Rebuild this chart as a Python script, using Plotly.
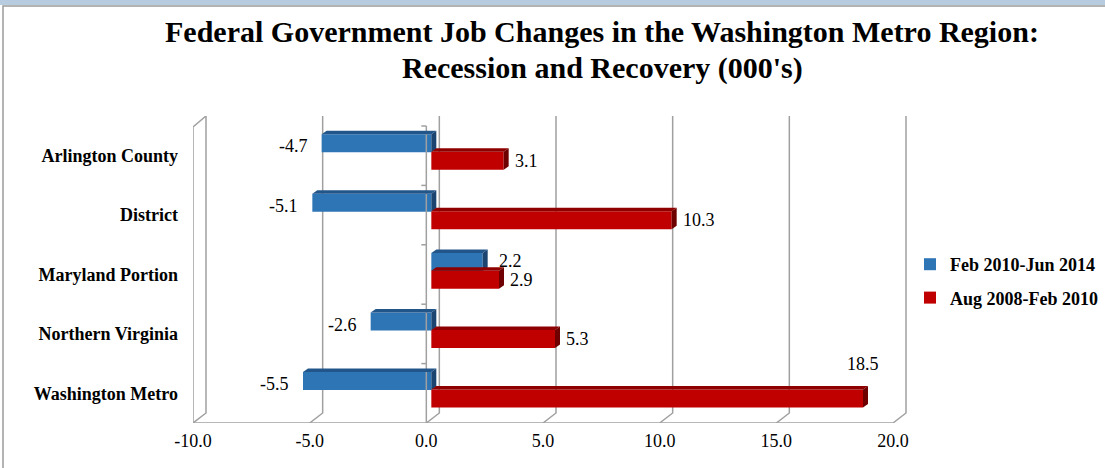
import plotly.graph_objects as go

# ---- data ----
categories = ["Arlington County", "District", "Maryland Portion", "Northern Virginia", "Washington Metro"]
recovery_name = "Feb 2010-Jun 2014"
recession_name = "Aug 2008-Feb 2010"
recovery = [-4.7, -5.1, 2.2, -2.6, -5.5]
recession = [3.1, 10.3, 2.9, 5.3, 18.5]
x_ticks = [-10, -5, 0, 5, 10, 15, 20]
title_lines = ["Federal Government Job Changes in the Washington Metro Region:",
               "Recession and Recovery (000's)"]

# ---- layout geometry (pixels) ----
W, H = 1105, 468
L, R, T, B = 193, 908, 116, 423
front_top = 126
X0, XF = -10.0, 20.0
ppu = (893 - 193) / (XF - X0)           # px per x unit
FRONT_SHIFT = 5                          # front plane is 5 px left of bar plane
BACK_SHIFT = 8                           # back wall is 8 px right of bar plane
x_lo = X0 - FRONT_SHIFT / ppu
x_hi = x_lo + (R - L) / ppu
n = len(categories)
ppy = (B - front_top) / n                # px per category
y_top = -0.5 - (front_top - T) / ppy
y_bot = n - 0.5

def dxu(px):
    return px / ppu

def dyu(px):
    return px / ppy

def px_x(px):   # paper x from pixel
    return (px - L) / (R - L)

def px_y(py):   # paper y from pixel (top-down)
    return (B - py) / (B - T)

BLUE, BLUE_TOP, BLUE_SIDE = "#2E75B6", "#22558A", "#1B4470"
RED, RED_TOP, RED_SIDE = "#C00000", "#8E0000", "#6E0000"
GRID = "#A0A0A0"
FONT = "Liberation Serif"

bw = 0.303
off_blue = -0.36
off_red = -0.065
ypos = list(range(n))

fig = go.Figure()
fig.add_trace(go.Bar(y=ypos, x=recovery, orientation="h", name=recovery_name,
                     marker=dict(color=BLUE, line=dict(width=0)), width=bw, offset=off_blue,
                     legendgroup="a", hoverinfo="skip"))
fig.add_trace(go.Bar(y=ypos, x=recession, orientation="h", name=recession_name,
                     marker=dict(color=RED, line=dict(width=0)), width=bw, offset=off_red,
                     legendgroup="b", hoverinfo="skip"))

shapes = []
fs, bs = dxu(FRONT_SHIFT), dxu(BACK_SHIFT)
floor_back = y_bot - dyu(10)
# back wall gridlines + floor diagonals + tick marks on the front edge
for v in x_ticks:
    shapes.append(dict(type="path", xref="x", yref="y", layer="below",
                       path=f"M{v+bs},{y_top} L{v+bs},{floor_back} L{v-fs},{y_bot}",
                       line=dict(color=GRID, width=1.5)))
    shapes.append(dict(type="line", xref="x", yref="y", layer="below",
                       x0=v - fs, x1=v - fs, y0=y_bot, y1=y_bot + dyu(5),
                       line=dict(color=GRID, width=1.5)))
# floor front line
shapes.append(dict(type="line", xref="x", yref="y", layer="below", x0=X0 - fs, x1=XF - fs,
                   y0=y_bot, y1=y_bot, line=dict(color=GRID, width=1.5)))
# left wall front edge + top diagonal
lw_top = -0.5 + dyu(1)
shapes.append(dict(type="path", xref="x", yref="y", layer="below",
                   path=f"M{X0-fs},{y_bot} L{X0-fs},{lw_top} L{X0+bs},{y_top}",
                   line=dict(color=GRID, width=1.5)))
# category axis at zero (front plane)
shapes.append(dict(type="line", xref="x", yref="y", layer="above", x0=-fs, x1=-fs, y0=-0.5, y1=y_bot,
                   line=dict(color=GRID, width=1.5)))
for i in range(n):
    shapes.append(dict(type="line", xref="x", yref="y", layer="above", x0=-fs - dxu(5), x1=-fs,
                       y0=i - 0.5, y1=i - 0.5, line=dict(color=GRID, width=1.5)))

# 3D faces of bars
ddx, ddy = dxu(5), dyu(3.5)
def faces(vals, off, top_c, side_c):
    out = []
    for i, v in enumerate(vals):
        a, b = min(0, v), max(0, v)
        yt = i + off
        yb = i + off + bw
        out.append(dict(type="path", xref="x", yref="y", layer="above", line=dict(width=0),
                        fillcolor=top_c,
                        path=f"M{a},{yt} L{b},{yt} L{b+ddx},{yt-ddy} L{a+ddx},{yt-ddy} Z"))
        out.append(dict(type="path", xref="x", yref="y", layer="above", line=dict(width=0),
                        fillcolor=side_c,
                        path=f"M{b},{yt} L{b+ddx},{yt-ddy} L{b+ddx},{yb-ddy} L{b},{yb} Z"))
    return out
shapes += faces(recovery, off_blue, BLUE_TOP, BLUE_SIDE)
shapes += faces(recession, off_red, RED_TOP, RED_SIDE)

# data labels
annotations = []
lab_font = dict(family=FONT, size=18, color="black")
for i, v in enumerate(recovery):
    yc = i + off_blue + bw / 2
    if v < 0:
        annotations.append(dict(x=v, y=yc, text=f"{v:.1f}", showarrow=False, xanchor="right",
                                xshift=-12, yshift=-3, font=lab_font))
    else:
        annotations.append(dict(x=v, y=yc, text=f"{v:.1f}", showarrow=False, xanchor="left",
                                xshift=14, yshift=1, font=lab_font))
for i, v in enumerate(recession):
    yc = i + off_red + bw / 2
    if (XF - v) * ppu > 45:
        annotations.append(dict(x=v, y=yc, text=f"{v:.1f}", showarrow=False, xanchor="left",
                                xshift=9, font=lab_font))
    else:
        annotations.append(dict(x=v, y=yc, text=f"{v:.1f}", showarrow=False, xanchor="center",
                                yshift=34, font=lab_font))

# title lines
for k, line in enumerate(title_lines):
    annotations.append(dict(xref="paper", yref="paper", x=px_x(602), y=px_y(31 + 37 * k),
                            xanchor="center", yanchor="middle", showarrow=False,
                            text=f"<b>{line}</b>",
                            font=dict(family=FONT, size=30, color="black")))

# chart-area frame
shapes.append(dict(type="rect", xref="paper", yref="paper",
                   x0=px_x(0), x1=px_x(W), y0=px_y(0), y1=px_y(5),
                   fillcolor="#B8CCE0", line=dict(width=0), layer="below"))
shapes.append(dict(type="path", xref="paper", yref="paper", layer="below",
                   path=f"M{px_x(3)},{px_y(H)} L{px_x(3)},{px_y(6)} L{px_x(W)},{px_y(6)}",
                   line=dict(color="#9A9A9A", width=1.5)))

fig.update_layout(
    width=W, height=H,
    margin=dict(l=L, r=W - R, t=T, b=H - B, autoexpand=False),
    paper_bgcolor="white", plot_bgcolor="rgba(0,0,0,0)",
    barmode="overlay", hovermode=False,
    xaxis=dict(range=[x_lo, x_hi], tickvals=x_ticks, ticktext=[f"{t:.1f}" for t in x_ticks],
               showgrid=False, zeroline=False, showline=False, automargin=False,
               ticks="", ticklabelshift=-FRONT_SHIFT, ticklabelstandoff=5,
               tickfont=dict(family=FONT, size=18, color="black")),
    yaxis=dict(range=[y_bot, y_top], tickvals=ypos, ticktext=categories,
               showgrid=False, zeroline=False, showline=False, ticks="", automargin=False,
               ticklabelstandoff=14,
               tickfont=dict(family=FONT, size=18, color="black", weight="bold")),
    legend=dict(x=px_x(910), xanchor="left", y=px_y(246), yanchor="top",
                traceorder="grouped", tracegroupgap=7,
                font=dict(family=FONT, size=18, color="black", weight="bold"),
                bgcolor="rgba(0,0,0,0)"),
    shapes=shapes, annotations=annotations,
)

fig.write_html("out.html", config={"displayModeBar": False},
               post_script="document.body.style.margin='0';document.body.style.overflow='hidden';")
